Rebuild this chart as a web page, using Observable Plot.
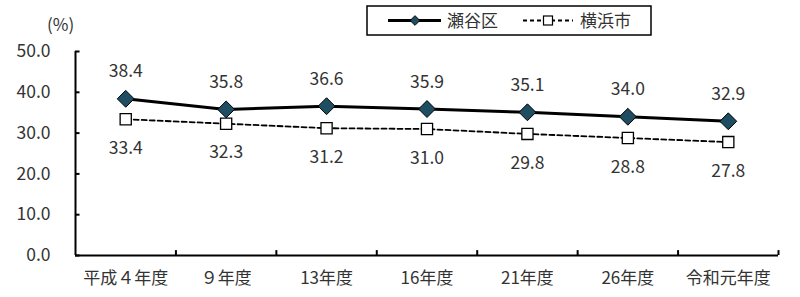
<!DOCTYPE html>
<html>
<head>
<meta charset="utf-8">
<script src="https://cdn.jsdelivr.net/npm/d3@7"></script>
<script src="https://cdn.jsdelivr.net/npm/@observablehq/plot@0.6"></script>
<style>
  html, body { margin: 0; padding: 0; background: #fff; }
  #wrap { position: relative; width: 800px; height: 297px; font-family: "Noto Sans CJK JP", sans-serif; }
  #unit { position: absolute; left: 47px; top: 11px; font-size: 17px; color: #333; }
  #legend { position: absolute; left: 366px; top: 5px; }
</style>
</head>
<body>
<div id="wrap">
  <div id="chart"></div>
  <div id="unit">(%)</div>
  <svg id="legend" width="290" height="32"></svg>
</div>
<script>
const categories = ["平成４年度", "９年度", "13年度", "16年度", "21年度", "26年度", "令和元年度"];
const seyaName = "瀬谷区";
const yokohamaName = "横浜市";
const seya = [38.4, 35.8, 36.6, 35.9, 35.1, 34.0, 32.9];
const yokohama = [33.4, 32.3, 31.2, 31.0, 29.8, 28.8, 27.8];
const yTicks = [0, 10, 20, 30, 40, 50];

const seyaData = seya.map((v, i) => ({pos: i + 0.5, v}));
const yokoData = yokohama.map((v, i) => ({pos: i + 0.5, v}));
const bounds = d3.range(1, categories.length + 1);
const textColor = "#333";
const diamondFill = "#1f4e63";
const numFont = 17.5;

const chart = Plot.plot({
  width: 800,
  height: 297,
  marginLeft: 75,
  marginRight: 22,
  marginTop: 51,
  marginBottom: 42,
  style: {fontFamily: "'Noto Sans CJK JP', sans-serif", fontSize: "17px", color: textColor, background: "white"},
  x: {type: "linear", domain: [0, categories.length], axis: null},
  y: {domain: [0, 50], axis: null},
  marks: [
    Plot.axisY({ticks: yTicks, label: null, tickSize: 0, tickPadding: 25, tickFormat: d => d.toFixed(1), fontSize: numFont, fill: textColor}),
    Plot.axisX({ticks: categories.map((c, i) => i + 0.5), label: null, tickSize: 0, tickPadding: 16, tickFormat: d => categories[Math.round(d - 0.5)], fontSize: 17, fill: textColor}),
    Plot.ruleY([0], {stroke: "black", strokeWidth: 2}),
    Plot.ruleX([0], {y1: 0, y2: 50, stroke: "black", strokeWidth: 2}),
    Plot.ruleY(yTicks, {x1: 0, x2: 0.045, stroke: "black", strokeWidth: 2}),
    Plot.ruleX(bounds, {y1: 0, y2: 1.2, stroke: "black", strokeWidth: 2}),
    Plot.line(yokoData, {x: "pos", y: "v", stroke: "black", strokeWidth: 1.8, strokeDasharray: "5,3"}),
    Plot.line(seyaData, {x: "pos", y: "v", stroke: "black", strokeWidth: 3}),
    Plot.dot(yokoData, {x: "pos", y: "v", symbol: "square", r: 6.3, fill: "white", stroke: "black", strokeWidth: 1.3}),
    Plot.dot(seyaData, {x: "pos", y: "v", symbol: "diamond2", r: 7.6, fill: diamondFill, stroke: "black", strokeWidth: 1}),
    Plot.text(seyaData, {x: "pos", y: "v", text: d => d.v.toFixed(1), dy: -27, fontSize: numFont, fill: textColor}),
    Plot.text(yokoData, {x: "pos", y: "v", text: d => d.v.toFixed(1), dy: 29, fontSize: numFont, fill: textColor})
  ]
});
document.getElementById("chart").appendChild(chart);

// legend
const lg = d3.select("#legend");
lg.append("rect").attr("x", 1).attr("y", 1).attr("width", 284).attr("height", 29).attr("fill", "white").attr("stroke", "black").attr("stroke-width", 1.5);
lg.append("line").attr("x1", 22).attr("x2", 75).attr("y1", 15.5).attr("y2", 15.5).attr("stroke", "black").attr("stroke-width", 3);
lg.append("path").attr("d", d3.symbol(d3.symbolDiamond2, 60)()).attr("transform", "translate(49,15.5)").attr("fill", diamondFill).attr("stroke", "black").attr("stroke-width", 1);
lg.append("text").attr("x", 81).attr("y", 15.5).attr("dy", "0.36em").attr("font-size", 17).attr("fill", textColor).attr("font-family", "'Noto Sans CJK JP', sans-serif").text(seyaName);
lg.append("line").attr("x1", 157).attr("x2", 207).attr("y1", 15.5).attr("y2", 15.5).attr("stroke", "black").attr("stroke-width", 1.8).attr("stroke-dasharray", "4,3");
lg.append("rect").attr("x", 177.5).attr("y", 11).attr("width", 9).attr("height", 9).attr("fill", "white").attr("stroke", "black").attr("stroke-width", 1.2);
lg.append("text").attr("x", 214).attr("y", 15.5).attr("dy", "0.36em").attr("font-size", 17).attr("fill", textColor).attr("font-family", "'Noto Sans CJK JP', sans-serif").text(yokohamaName);
</script>
</body>
</html>
